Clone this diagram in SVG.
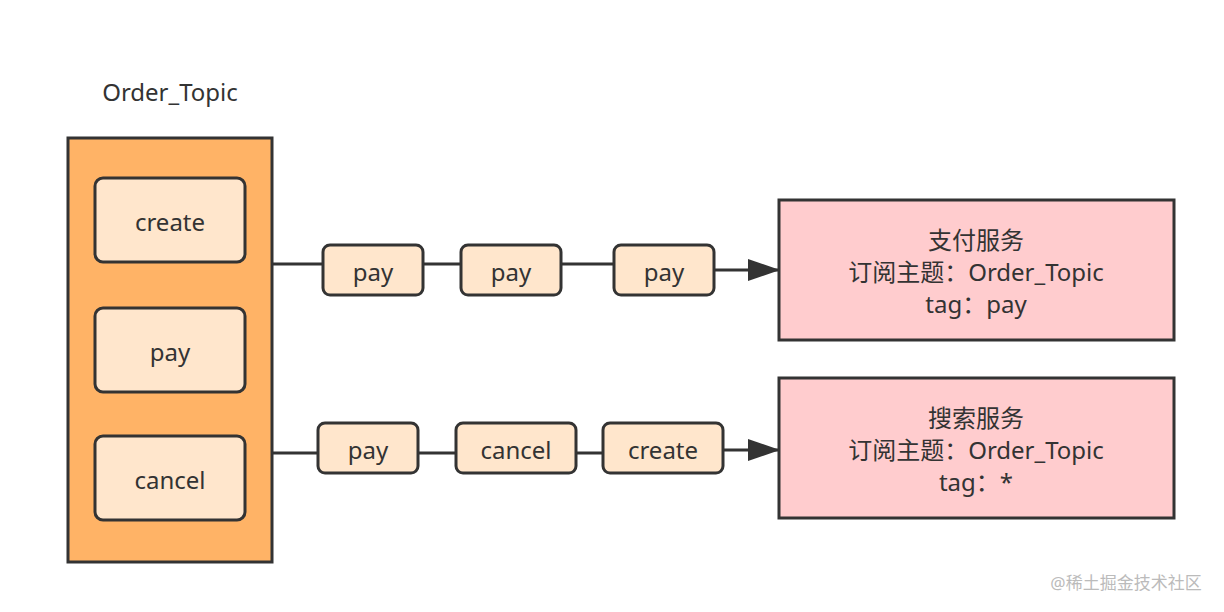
<svg xmlns="http://www.w3.org/2000/svg" width="1224" height="612" viewBox="0 0 1224 612">
<style>
text{font-family:"Noto Sans","Noto Sans CJK SC",sans-serif;font-size:24px;fill:#333;text-anchor:middle}
.b{stroke:#333;stroke-width:3}
.item{fill:#ffe6cc}
.svc{fill:#ffccce}
.ln{stroke:#333;stroke-width:3;fill:none}
</style>
<defs><marker id="ah" markerWidth="32" markerHeight="22" refX="30" refY="11" orient="auto" markerUnits="userSpaceOnUse"><path d="M0,0 L32,11 L0,22 Z" fill="#333"/></marker></defs>
<rect width="1224" height="612" fill="#fff"/>
<g id="connectors">
<path class="ln" d="M272,264 H323 M423,264 H461 M561,264 H614"/>
<path class="ln" d="M714,270 H778" marker-end="url(#ah)"/>
<path class="ln" d="M272,453 H318 M418,453 H456 M576,453 H603"/>
<path class="ln" d="M723,450 H778" marker-end="url(#ah)"/>
</g>
<g id="topic">
<text x="170" y="101">Order_Topic</text>
<rect class="b" x="68" y="138" width="204" height="424" fill="#ffb366"/>
</g>
<g id="t-create"><rect class="b item" x="95" y="178" width="150" height="84" rx="8"/><text x="170" y="231">create</text></g>
<g id="t-pay"><rect class="b item" x="95" y="308" width="150" height="84" rx="8"/><text x="170" y="361">pay</text></g>
<g id="t-cancel"><rect class="b item" x="95" y="436" width="150" height="84" rx="8"/><text x="170" y="489">cancel</text></g>
<g id="m1"><rect class="b item" x="323" y="245" width="100" height="50" rx="7"/><text x="373" y="281">pay</text></g>
<g id="m2"><rect class="b item" x="461" y="245" width="100" height="50" rx="7"/><text x="511" y="281">pay</text></g>
<g id="m3"><rect class="b item" x="614" y="245" width="100" height="50" rx="7"/><text x="664" y="281">pay</text></g>
<g id="m4"><rect class="b item" x="318" y="423" width="100" height="50" rx="7"/><text x="368" y="459">pay</text></g>
<g id="m5"><rect class="b item" x="456" y="423" width="120" height="50" rx="7"/><text x="516" y="459">cancel</text></g>
<g id="m6"><rect class="b item" x="603" y="423" width="120" height="50" rx="7"/><text x="663" y="459">create</text></g>
<g id="pay-svc"><rect class="b svc" x="779" y="200" width="395" height="140"/>
<text x="976" y="249">支付服务</text><text x="976" y="281">订阅主题：Order_Topic</text><text x="976" y="313">tag：pay</text></g>
<g id="search-svc"><rect class="b svc" x="779" y="378" width="395" height="140"/>
<text x="976" y="427">搜索服务</text><text x="976" y="459">订阅主题：Order_Topic</text><text x="976" y="491">tag：*</text></g>
<text x="1126" y="589" style="font-size:17px;fill:#bbb">@稀土掘金技术社区</text>
</svg>
